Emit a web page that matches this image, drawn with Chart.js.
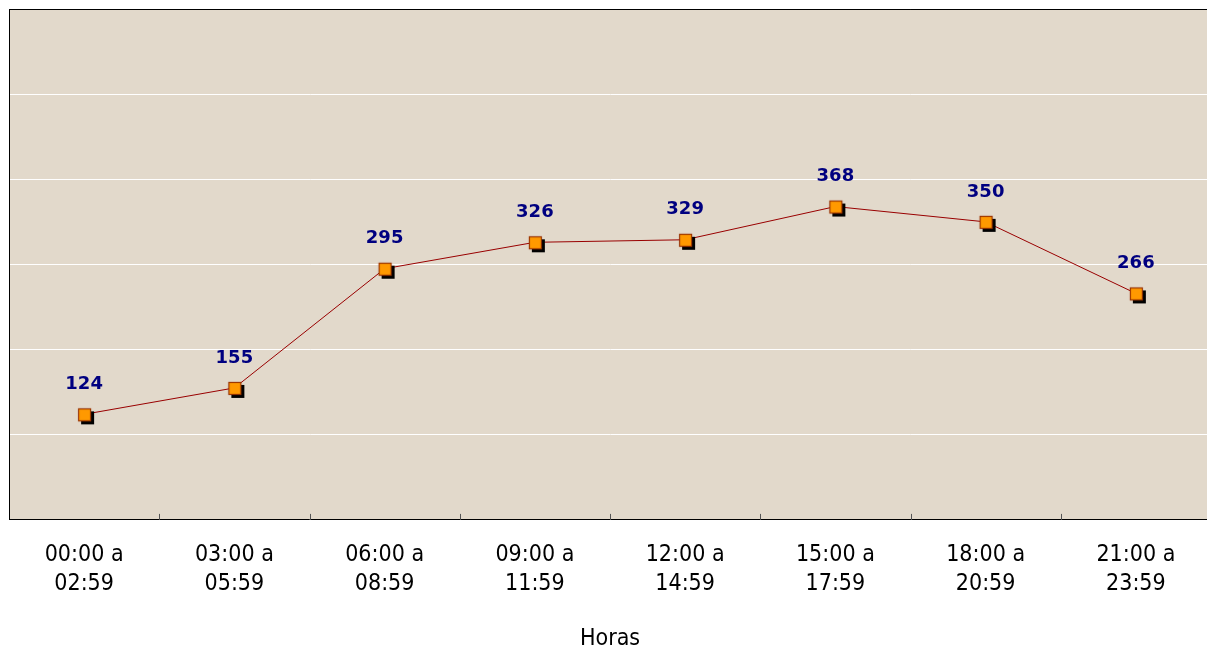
<!DOCTYPE html>
<html>
<head>
<meta charset="utf-8">
<script src="https://cdn.jsdelivr.net/npm/chart.js@4.4.1/dist/chart.umd.min.js"></script>
<style>
  html, body { margin: 0; padding: 0; background: #ffffff; overflow: hidden; }
  #wrap { width: 1207px; height: 653px; position: relative; overflow: hidden; }
  #c { position: absolute; left: 0; top: 0; }
</style>
</head>
<body>
<div id="wrap"><canvas id="c" width="1220" height="653"></canvas></div>
<script>
const categories = [
  ["00:00 a", "02:59"],
  ["03:00 a", "05:59"],
  ["06:00 a", "08:59"],
  ["09:00 a", "11:59"],
  ["12:00 a", "14:59"],
  ["15:00 a", "17:59"],
  ["18:00 a", "20:59"],
  ["21:00 a", "23:59"]
];
const values = [124, 155, 295, 326, 329, 368, 350, 266];
const axisTitle = "Horas";
const yMin = 0, yMax = 600, yStep = 100;

const labelFamily = "'DejaVu Sans Condensed', 'Liberation Sans', sans-serif";

// Marker image: orange square with brown border and black drop shadow
function makeMarker() {
  const c = document.createElement('canvas');
  c.width = 24; c.height = 24;
  const g = c.getContext('2d');
  g.fillStyle = '#000000';
  g.fillRect(9, 9, 13, 13);
  g.fillStyle = '#ff9900';
  g.fillRect(6, 6, 13, 13);
  g.strokeStyle = '#993300';
  g.lineWidth = 1.2;
  g.strokeRect(6.5, 6.5, 12, 12);
  return c;
}
const marker = makeMarker();

const bgPlugin = {
  id: 'bg',
  beforeDraw(chart) {
    const { ctx, chartArea: a } = chart;
    ctx.save();
    ctx.fillStyle = '#e2d9cb';
    ctx.fillRect(a.left, a.top, a.right - a.left, a.bottom - a.top);
    ctx.restore();
  },
  afterDraw(chart) {
    const { ctx, chartArea: a } = chart;
    const xs = chart.scales.x;
    ctx.save();
    // inner tick marks between categories
    ctx.strokeStyle = '#555555';
    ctx.lineWidth = 1;
    for (let i = 1; i < categories.length; i++) {
      const x = Math.round((xs.getPixelForValue(i - 1) + xs.getPixelForValue(i)) / 2) + 0.5;
      ctx.beginPath();
      ctx.moveTo(x, a.bottom);
      ctx.lineTo(x, a.bottom - 6);
      ctx.stroke();
    }
    // top border
    ctx.strokeStyle = '#000000';
    ctx.beginPath();
    ctx.moveTo(a.left, Math.round(a.top) + 0.5);
    ctx.lineTo(a.right, Math.round(a.top) + 0.5);
    ctx.stroke();
    ctx.restore();
  }
};

const valueLabels = {
  id: 'valueLabels',
  afterDatasetsDraw(chart) {
    const { ctx } = chart;
    const meta = chart.getDatasetMeta(0);
    ctx.save();
    ctx.font = "bold 18px 'DejaVu Sans', sans-serif";
    ctx.fillStyle = '#000080';
    ctx.textAlign = 'center';
    ctx.textBaseline = 'middle';
    meta.data.forEach((pt, i) => {
      ctx.fillText(String(values[i]), pt.x, pt.y - 30);
    });
    ctx.restore();
  }
};

new Chart(document.getElementById('c'), {
  type: 'line',
  data: {
    labels: categories,
    datasets: [{
      data: values,
      borderColor: '#990000',
      borderWidth: 1,
      tension: 0,
      fill: false,
      pointStyle: marker,
      pointRadius: 8,
      pointHoverRadius: 8
    }]
  },
  options: {
    responsive: false,
    animation: false,
    events: [],
    layout: { padding: { left: 1, top: 9, right: 0, bottom: 0 } },
    plugins: {
      legend: { display: false },
      tooltip: { enabled: false }
    },
    scales: {
      x: {
        offset: true,
        grid: { display: false, drawTicks: false, offset: true },
        border: { display: true, color: '#000000', width: 1 },
        ticks: {
          color: '#000000',
          font: { family: labelFamily, size: 23, lineHeight: 1.25 },
          padding: 21,
          maxRotation: 0,
          autoSkip: false
        },
        title: {
          display: true,
          text: axisTitle,
          color: '#000000',
          font: { family: labelFamily, size: 23, lineHeight: 1.2 },
          padding: { top: 6, bottom: 0 }
        }
      },
      y: {
        min: yMin,
        max: yMax,
        ticks: { display: false, stepSize: yStep },
        grid: {
          drawTicks: false,
          color: (c) => (c.tick && c.tick.value === yMax) ? '#000000' : '#ffffff',
          lineWidth: 1
        },
        border: { display: true, color: '#000000', width: 1 }
      }
    }
  },
  plugins: [bgPlugin, valueLabels]
});
</script>
</body>
</html>
